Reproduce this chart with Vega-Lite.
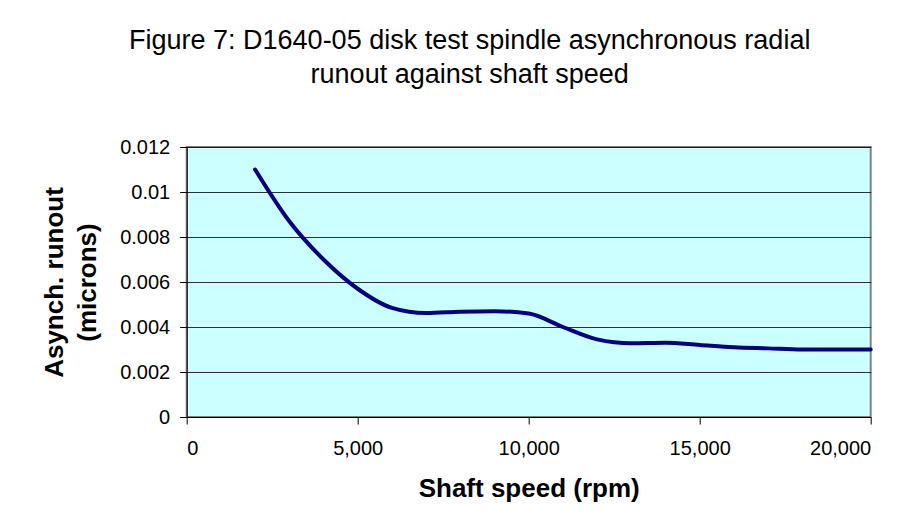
{
  "$schema": "https://vega.github.io/schema/vega-lite/v6.json",
  "width": 684,
  "height": 270,
  "autosize": {"type": "none"},
  "padding": {"left": 186.7, "top": 147, "right": 46.3, "bottom": 107},
  "background": "white",
  "title": {
    "text": ["Figure 7: D1640-05 disk test spindle asynchronous radial", "runout against shaft speed"],
    "font": "Liberation Sans",
    "fontSize": 27,
    "fontWeight": "normal",
    "color": "#000000",
    "anchor": "middle",
    "frame": "group",
    "dx": -59,
    "lineHeight": 34,
    "baseline": "bottom",
    "offset": 21
  },
  "data": {
    "values": [
      {"rpm": 2000, "runout": 0.0110},
      {"rpm": 3000, "runout": 0.0087},
      {"rpm": 4000, "runout": 0.0070},
      {"rpm": 5000, "runout": 0.0057},
      {"rpm": 6000, "runout": 0.00485},
      {"rpm": 7000, "runout": 0.00462},
      {"rpm": 8000, "runout": 0.00468},
      {"rpm": 9000, "runout": 0.0047},
      {"rpm": 10000, "runout": 0.0046},
      {"rpm": 11000, "runout": 0.0040},
      {"rpm": 12000, "runout": 0.00345},
      {"rpm": 13000, "runout": 0.00328},
      {"rpm": 14000, "runout": 0.0033},
      {"rpm": 15000, "runout": 0.0032},
      {"rpm": 16000, "runout": 0.0031},
      {"rpm": 17000, "runout": 0.00305},
      {"rpm": 18000, "runout": 0.0030},
      {"rpm": 19000, "runout": 0.0030},
      {"rpm": 20000, "runout": 0.0030}
    ]
  },
  "mark": {"type": "line", "interpolate": "monotone", "stroke": "#000080", "strokeWidth": 4, "strokeCap": "round"},
  "encoding": {
    "x": {
      "field": "rpm",
      "type": "quantitative",
      "scale": {"domain": [0, 20000], "nice": false, "zero": true},
      "axis": {
        "values": [0, 5000, 10000, 15000, 20000],
        "format": ",.0f",
        "grid": false,
        "title": "Shaft speed (rpm)",
        "titleX": 342,
        "titleY": 79,
        "titleAlign": "center",
        "titleBaseline": "alphabetic",
        "labelPadding": 14
      }
    },
    "y": {
      "field": "runout",
      "type": "quantitative",
      "scale": {"domain": [0, 0.012], "nice": false},
      "axis": {
        "values": [0, 0.002, 0.004, 0.006, 0.008, 0.01, 0.012],
        "format": "~f",
        "grid": true,
        "title": ["Asynch. runout", "(microns)"],
        "titleAngle": -90,
        "titleX": -124,
        "titleY": 135,
        "titleAlign": "center",
        "titleBaseline": "alphabetic",
        "titleLineHeight": 33,
        "labelPadding": 10
      }
    }
  },
  "config": {
    "view": {"fill": "#CCFFFF", "stroke": "#808080", "strokeWidth": 2},
    "axis": {
      "domainColor": "#000000",
      "domainWidth": 1,
      "tickColor": "#000000",
      "tickSize": 7,
      "tickWidth": 1,
      "gridColor": "#000000",
      "gridWidth": 1,
      "gridOpacity": 0.8,
      "labelFont": "Liberation Sans",
      "labelFontSize": 20,
      "labelColor": "#000000",
      "titleFont": "Liberation Sans",
      "titleFontSize": 26,
      "titleFontWeight": "bold",
      "titleColor": "#000000"
    }
  }
}
